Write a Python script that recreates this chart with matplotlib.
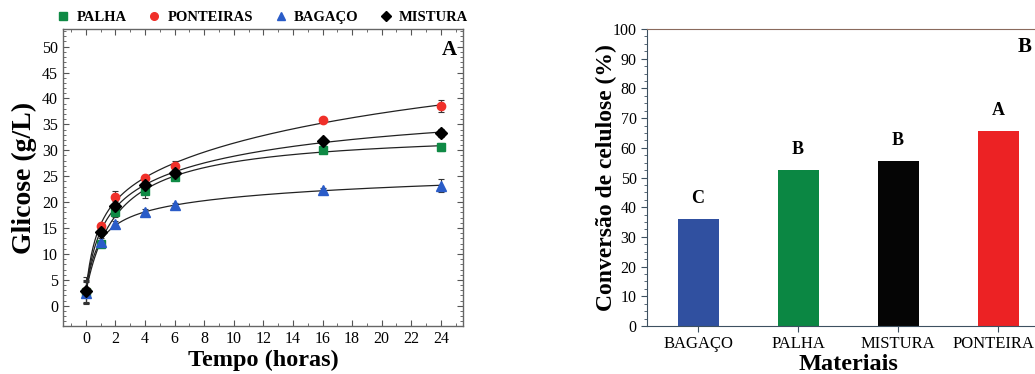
import numpy as np
from matplotlib import pyplot as plt
from matplotlib.lines import Line2D
from matplotlib.ticker import MultipleLocator

plt.rcParams['font.family'] = ['Liberation Serif', 'DejaVu Serif']

# dados painel A
tempo = [0, 1, 2, 4, 6, 16, 24]
palha = [2.7, 12.0, 18.0, 22.2, 24.8, 30.0, 30.7]
palha_err = [2.0, 0.5, 0.8, 1.5, 0.6, 0.5, 0.8]
ponteiras = [2.8, 15.3, 21.0, 24.6, 27.0, 35.8, 38.5]
ponteiras_err = [2.2, 0.6, 1.2, 0.6, 1.0, 0.4, 1.2]
bagaco = [2.5, 12.4, 15.7, 18.0, 19.4, 22.3, 23.2]
bagaco_err = [2.0, 0.6, 0.7, 0.6, 0.5, 0.4, 1.3]
mistura = [2.9, 14.2, 19.3, 23.3, 25.6, 31.7, 33.4]
mistura_err = [2.6, 0.8, 1.0, 1.2, 0.7, 0.5, 0.8]

# dados painel B
materiais = ['BAGAÇO', 'PALHA', 'MISTURA', 'PONTEIRAS']
conversao = [35.9, 52.5, 55.7, 65.7]
letras = ['C', 'B', 'B', 'A']
cores_barras = ['#3050a0', '#0b8743', '#050505', '#ec2224']


def ajuste(t, y):
    # y = y0 + a*t/(b+t) + c*t/(d+t), b e d por busca, resto por minimos quadrados
    t = np.asarray(t, float)
    y = np.asarray(y, float)
    best = None
    for b in np.geomspace(0.2, 5, 40):
        for d in np.geomspace(3, 200, 40):
            A = np.column_stack([np.ones_like(t), t / (b + t), t / (d + t)])
            coef = np.linalg.lstsq(A, y, rcond=None)[0]
            err = np.sum((A @ coef - y) ** 2)
            if best is None or err < best[0]:
                best = (err, b, d, coef)
    _, b, d, coef = best
    tt = np.linspace(0, 24, 400)
    return tt, coef[0] + coef[1] * tt / (b + tt) + coef[2] * tt / (d + tt)


fig = plt.figure(figsize=(10.35, 3.74), dpi=100)
ax = fig.add_axes([63 / 1035, 48 / 374, 400 / 1035, 297 / 374])
ax2 = fig.add_axes([647 / 1035, 48 / 374, 403 / 1035, 297 / 374])

series = [
    ('PALHA', palha, palha_err, 's', '#0f8a45', 5.5),
    ('PONTEIRAS', ponteiras, ponteiras_err, 'o', '#f0302a', 6),
    ('BAGAÇO', bagaco, bagaco_err, '^', '#2a5cc8', 6.5),
    ('MISTURA', mistura, mistura_err, 'D', '#000000', 6),
]
for nome, y, e, m, c, ms in series:
    tt, yy = ajuste(tempo, y)
    ax.plot(tt, yy, color='#222222', lw=0.9, zorder=2)
handles = []
for nome, y, e, m, c, ms in series:
    ax.errorbar(tempo, y, yerr=e, fmt=m, color=c, ms=ms, ecolor='#333333',
                elinewidth=0.8, capsize=2, capthick=0.8, zorder=3)
    handles.append(Line2D([], [], ls='none', marker=m, color=c, ms=5.5,
                          label=nome))

ax.set_xlim(-1.55, 25.5)
ax.set_ylim(-3.9, 53.4)
ax.xaxis.set_major_locator(MultipleLocator(2))
ax.xaxis.set_minor_locator(MultipleLocator(1))
ax.yaxis.set_minor_locator(MultipleLocator(1))
ax.set_yticks(range(0, 51, 5))
ax.tick_params(which='both', direction='in', top=True, right=True,
               color='#555555', labelsize=11.5)
ax.tick_params(which='major', length=4)
ax.tick_params(which='minor', length=2)
for s in ax.spines.values():
    s.set_color('#666666')
    s.set_linewidth(1.0)
ax.set_xlabel('Tempo (horas)', fontsize=17.5, fontweight='bold', labelpad=2)
ax.set_ylabel('Glicose (g/L)', fontsize=20, fontweight='bold', labelpad=4)
ax.text(0.985, 0.93, 'A', transform=ax.transAxes, ha='right', va='center',
        fontsize=15, fontweight='bold')
leg = ax.legend(handles=handles, loc='lower center',
                bbox_to_anchor=(0.5, 0.995), ncol=4, frameon=False,
                fontsize=10.5, handletextpad=0.5, columnspacing=1.5,
                handlelength=0.8, borderaxespad=0.05)
for txt in leg.get_texts():
    txt.set_fontweight('bold')

pos = np.arange(1, len(materiais) + 1)
ax2.bar(pos, conversao, width=0.41, color=cores_barras, zorder=2)
for x, v, l in zip(pos, conversao, letras):
    ax2.text(x, v + 4, l, ha='center', va='bottom', fontsize=13,
             fontweight='bold')
ax2.set_xlim(0.49, 4.52)
ax2.set_ylim(0, 100)
ax2.set_xticks(pos)
ax2.set_xticklabels(materiais)
ax2.yaxis.set_major_locator(MultipleLocator(10))
ax2.yaxis.set_minor_locator(MultipleLocator(2.5))
ax2.tick_params(axis='y', which='both', direction='out', color='#3d5060',
                labelsize=11.5)
ax2.tick_params(axis='y', which='major', length=4)
ax2.tick_params(axis='y', which='minor', length=2)
ax2.tick_params(axis='x', direction='out', length=4, color='#3d5060',
                labelsize=12)
ax2.spines['right'].set_visible(False)
ax2.spines['top'].set_color('#8a6a5c')
ax2.spines['left'].set_color('#3d5060')
ax2.spines['bottom'].set_color('#3d5060')
ax2.set_xlabel('Materiais', fontsize=17.5, fontweight='bold', labelpad=1)
ax2.set_ylabel('Conversão de celulose (%)', fontsize=17, fontweight='bold',
               labelpad=-3)
fig.text(1025 / 1035, 1 - 47 / 374, 'B', ha='center', va='center',
         fontsize=15, fontweight='bold')

fig.savefig('out.png', dpi=100)
